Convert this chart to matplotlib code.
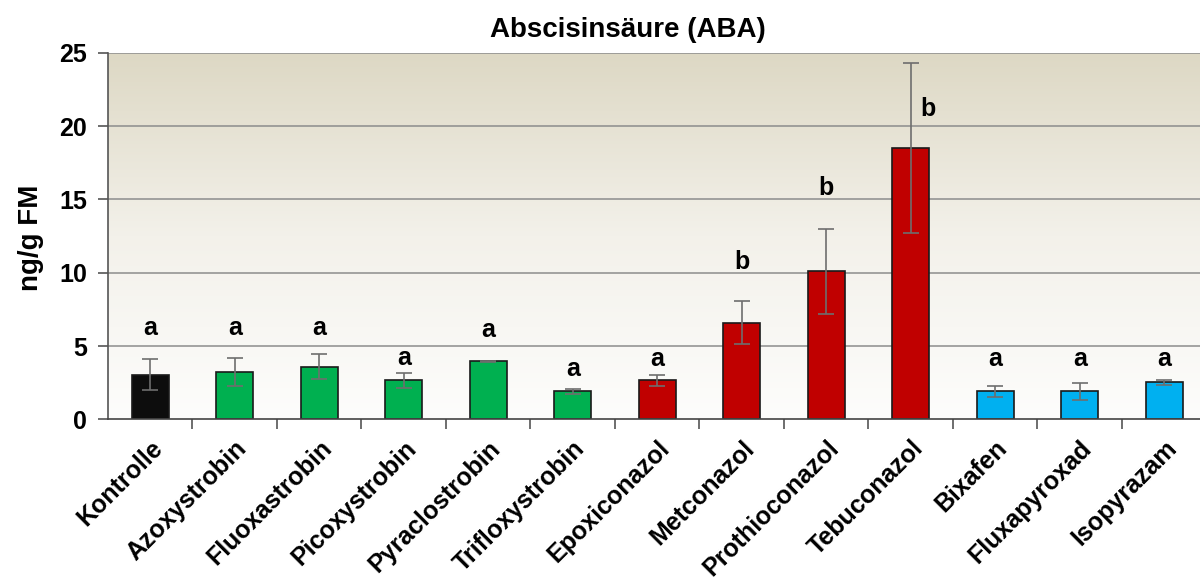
import numpy as np
import matplotlib
matplotlib.use("Agg")
import matplotlib.pyplot as plt
from matplotlib.colors import LinearSegmentedColormap

plt.rcParams["font.family"] = ["Liberation Sans", "DejaVu Sans"]
plt.rcParams["font.weight"] = "bold"

# Data
categories = ["Kontrolle", "Azoxystrobin", "Fluoxastrobin", "Picoxystrobin", "Pyraclostrobin",
              "Trifloxystrobin", "Epoxiconazol", "Metconazol", "Prothioconazol", "Tebuconazol",
              "Bixafen", "Fluxapyroxad", "Isopyrazam"]
values = [3.05, 3.25, 3.6, 2.65, 3.95, 1.9, 2.65, 6.6, 10.1, 18.5, 1.9, 1.9, 2.52]
errors = [1.05, 0.95, 0.85, 0.5, 0.04, 0.2, 0.35, 1.47, 2.9, 5.8, 0.37, 0.59, 0.19]
groups = ["control", "strobilurin", "strobilurin", "strobilurin", "strobilurin",
          "strobilurin", "azole", "azole", "azole", "azole", "sdhi", "sdhi", "sdhi"]
letters = ["a", "a", "a", "a", "a", "a", "a", "b", "b", "b", "a", "a", "a"]
letter_heights = [6.2, 6.2, 6.2, 4.2, 6.1, 3.4, 4.1, 10.7, 15.8, 21.2, 4.1, 4.1, 4.1]

group_colors = {"control": "#0d0d0d", "strobilurin": "#00b050", "azole": "#c00000", "sdhi": "#00b0f0"}

fig = plt.figure(figsize=(12, 5.87), dpi=100)
ax = fig.add_axes([0.09, 0.2857, 0.9154, 0.6243])

x = np.arange(len(categories))
ax.set_xlim(-0.5, len(categories) - 0.5)
ax.set_ylim(0, 25)

# gradient background
cmap = LinearSegmentedColormap.from_list("bg", ["#fdfdfc", "#f3f1ea", "#ddd8c4"])
grad = np.linspace(0, 1, 256).reshape(-1, 1)
ax.imshow(grad, cmap=cmap, origin="lower", aspect="auto",
          extent=(-0.5, len(categories) - 0.5, 0, 25), zorder=0)

for yv in [5, 10, 15, 20, 25]:
    ax.axhline(yv, color="#8c8c8c", lw=1.1, zorder=1)

ax.bar(x, values, width=0.44, color=[group_colors[g] for g in groups],
       edgecolor="#1a1a1a", linewidth=1.2, zorder=2)
ax.errorbar(x, values, yerr=errors, fmt="none", ecolor="#6e6e6e", elinewidth=1.2,
            capsize=6, capthick=1.2, zorder=3)

for i, (lt, h) in enumerate(zip(letters, letter_heights)):
    dx = 0.2 if i == 9 else 0.0
    ax.text(i + dx, h, lt, ha="center", va="center", fontsize=18, fontweight="bold", zorder=4)

ax.set_yticks([0, 5, 10, 15, 20, 25])
ax.set_yticklabels(["0", "5", "10", "15", "20", "25"], fontsize=18, fontweight="bold")
ax.set_xticks(x + 0.5, minor=True)
ax.set_xticks(x)
ax.set_xticklabels(categories, rotation=45, ha="right", va="top", rotation_mode="anchor",
                   fontsize=18, fontweight="bold")
ax.tick_params(axis="x", which="major", length=0, pad=12)
ax.tick_params(axis="x", which="minor", length=7, color="#555555", width=1.2)
ax.tick_params(axis="y", length=7, color="#555555", width=1.2, pad=8)

ax.spines["top"].set_visible(False)
ax.spines["right"].set_visible(False)
ax.spines["left"].set_color("#555555")
ax.spines["left"].set_linewidth(1.2)
ax.spines["bottom"].set_color("#444444")
ax.spines["bottom"].set_linewidth(1.2)

fig.text(31 / 1200, 1 - 238 / 587, "ng/g FM", rotation=90, ha="center", va="center",
         fontsize=20, fontweight="bold")
fig.text(628 / 1200, 1 - 30 / 587, "Abscisinsäure (ABA)", ha="center", va="center",
         fontsize=20, fontweight="bold")

fig.savefig("out.png", dpi=100)
